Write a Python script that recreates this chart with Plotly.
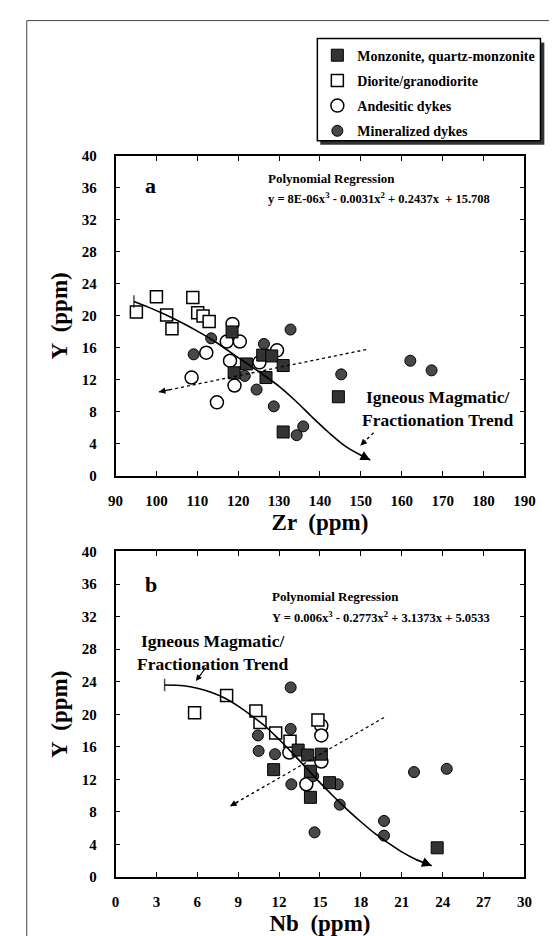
import plotly.graph_objects as go

# ---------------- Panel a : Zr vs Y ----------------
a_mon_zr = [118.5, 119.0, 122.0, 126.0, 128.2, 126.8, 131.0, 131.0, 144.5]
a_mon_y = [18.0, 12.9, 14.0, 15.1, 15.0, 12.3, 13.8, 5.5, 9.9]
a_dio_zr = [95.1, 100.0, 102.5, 103.8, 108.9, 110.1, 111.4, 112.9]
a_dio_y = [20.5, 22.4, 20.1, 18.4, 22.3, 20.4, 20.0, 19.3]
a_and_zr = [118.6, 117.2, 120.4, 112.2, 118.0, 108.6, 119.1, 114.8, 129.5, 125.2]
a_and_y = [19.0, 16.8, 16.8, 15.4, 14.4, 12.3, 11.3, 9.2, 15.7, 14.2]
a_min_zr = [113.4, 109.1, 126.3, 132.8, 121.6, 124.5, 128.7, 134.3, 135.9, 145.2, 162.1, 167.3]
a_min_y = [17.2, 15.2, 16.5, 18.3, 12.5, 10.8, 8.7, 5.1, 6.2, 12.7, 14.4, 13.2]

a_fit_zr = [94.5, 98, 102, 106, 110, 114, 118, 122, 126, 130, 134, 138, 142, 146, 150, 152.3]
a_fit_y = [21.8, 21.1, 20.2, 19.2, 18.1, 16.9, 15.5, 14.1, 12.7, 11.2, 9.4, 7.4, 5.5, 3.8, 2.6, 2.0]
a_trend_zr = [151.3, 100.6]
a_trend_y = [15.8, 10.5]
a_ptr_zr = [153.1, 149.9]
a_ptr_y = [5.4, 3.8]

# ---------------- Panel b : Nb vs Y ----------------
b_mon_nb = [11.6, 13.4, 14.1, 15.1, 14.3, 14.3, 15.7, 23.6]
b_mon_y = [13.2, 15.6, 15.0, 15.1, 13.0, 9.8, 11.6, 3.6]
b_dio_nb = [5.8, 8.15, 10.3, 10.6, 11.75, 12.8, 14.85]
b_dio_y = [20.2, 22.3, 20.4, 19.0, 17.7, 16.7, 19.3]
b_and_nb = [15.1, 15.1, 15.1, 12.75, 14.0]
b_and_y = [18.6, 17.4, 14.2, 15.3, 11.4]
b_min_nb = [12.85, 12.85, 10.45, 10.5, 11.7, 12.9, 14.6, 14.5, 16.3, 16.45, 19.7, 19.7, 21.9, 24.3]
b_min_y = [23.3, 18.2, 17.4, 15.5, 15.1, 11.4, 5.5, 12.4, 11.4, 8.9, 6.9, 5.1, 12.9, 13.3]

b_fit_nb = [3.6, 5, 6, 7, 8, 9, 10, 11, 12, 13, 14, 15, 16, 17, 18, 19, 20, 21, 22, 23.2]
b_fit_y = [23.6, 23.5, 23.2, 22.7, 22.0, 21.0, 19.8, 18.5, 16.9, 15.2, 13.4, 11.6, 9.9,
           8.3, 6.8, 5.4, 4.2, 3.1, 2.2, 1.4]
b_trend_nb = [19.7, 8.4]
b_trend_y = [19.6, 8.7]
b_ptr_nb = [6.7, 5.9]
b_ptr_y = [25.9, 24.1]

series_names = ["Monzonite, quartz-monzonite", "Diorite/granodiorite",
                "Andesitic dykes", "Mineralized dykes"]

FONT = "Liberation Serif, Times New Roman, serif"
FILL_SQ = "#333333"
FILL_CI = "#484848"

styles = {
    0: dict(symbol="square", size=12, color=FILL_SQ, line=dict(color="black", width=1)),
    1: dict(symbol="square", size=12, color="white", line=dict(color="black", width=1.5)),
    2: dict(symbol="circle", size=13, color="white", line=dict(color="black", width=1.5)),
    3: dict(symbol="circle", size=11, color=FILL_CI, line=dict(color="black", width=1)),
}

fig = go.Figure()

panels = [
    ("x", "y", [a_mon_zr, a_dio_zr, a_and_zr, a_min_zr], [a_mon_y, a_dio_y, a_and_y, a_min_y], True),
    ("x2", "y2", [b_mon_nb, b_dio_nb, b_and_nb, b_min_nb], [b_mon_y, b_dio_y, b_and_y, b_min_y], False),
]

draw_order = [2, 1, 3, 0]
for xa, ya, xs, ys, show in panels:
    for i in draw_order:
        fig.add_trace(go.Scatter(
            x=xs[i], y=ys[i], mode="markers", name=series_names[i],
            marker=styles[i], xaxis=xa, yaxis=ya, showlegend=show,
            legendgroup=series_names[i], legendrank=i + 1,
        ))

# fitted curves with start caps
for xa, ya, xs, ys in [("x", "y", a_fit_zr, a_fit_y), ("x2", "y2", b_fit_nb, b_fit_y)]:
    fig.add_trace(go.Scatter(x=xs, y=ys, mode="lines+markers", xaxis=xa, yaxis=ya,
                             line=dict(color="black", width=1.6, shape="spline"), showlegend=False,
                             marker=dict(symbol="line-ns-open", size=[9] + [0] * (len(xs) - 1),
                                         line=dict(color="black", width=1.5))))
# dotted trend lines
for xa, ya, xs, ys in [("x", "y", a_trend_zr, a_trend_y), ("x", "y", a_ptr_zr, a_ptr_y),
                       ("x2", "y2", b_trend_nb, b_trend_y)]:
    fig.add_trace(go.Scatter(x=xs, y=ys, mode="lines", xaxis=xa, yaxis=ya, showlegend=False,
                             line=dict(color="black", width=1.3, dash="dot")))

ann = []
def arrowhead(xref, yref, xs, ys, f, head=2, size=1.2):
    x0, y0 = xs[-2], ys[-2]
    x1, y1 = xs[-1], ys[-1]
    ann.append(dict(x=x1, y=y1, ax=x0 + (x1 - x0) * f, ay=y0 + (y1 - y0) * f,
                    xref=xref, yref=yref, axref=xref, ayref=yref, text="", showarrow=True,
                    arrowhead=head, arrowsize=size, arrowwidth=1.3, arrowcolor="black"))

arrowhead("x", "y", a_fit_zr, a_fit_y, 0.0, head=2, size=1.5)
arrowhead("x2", "y2", b_fit_nb, b_fit_y, 0.0, head=2, size=1.5)
arrowhead("x", "y", a_trend_zr, a_trend_y, 0.94, head=2, size=1.0)
arrowhead("x", "y", a_ptr_zr, a_ptr_y, 0.5, head=2, size=1.0)
arrowhead("x2", "y2", b_trend_nb, b_trend_y, 0.94, head=2, size=1.0)
ann.append(dict(x=b_ptr_nb[1], y=b_ptr_y[1], ax=b_ptr_nb[0], ay=b_ptr_y[0], xref="x2", yref="y2",
                axref="x2", ayref="y2", text="", showarrow=True, arrowhead=2, arrowsize=1.0,
                arrowwidth=1.2, arrowcolor="black"))

def txt(x, y, s, xref, yref, size, xanchor="left"):
    ann.append(dict(x=x, y=y, text=s, xref=xref, yref=yref, showarrow=False, xanchor=xanchor,
                    yanchor="middle", align="center",
                    font=dict(family=FONT, size=size, color="black", weight="bold")))

# panel a texts
txt(96.8, 36.3, "a", "x", "y", 22)
txt(126.8, 37.2, "Polynomial Regression", "x", "y", 13)
txt(126.8, 34.7, "y = 8E-06x<sup>3</sup> - 0.0031x<sup>2</sup> + 0.2437x  + 15.708", "x", "y", 12.5)
txt(168.8, 8.4, "Igneous Magmatic/<br>Fractionation Trend", "x", "y", 17.5, "center")
# panel b texts
txt(2.0, 35.9, "b", "x2", "y2", 22)
txt(11.3, 34.5, "Polynomial Regression", "x2", "y2", 13)
txt(11.3, 32.0, "Y = 0.006x<sup>3</sup> - 0.2773x<sup>2</sup> + 3.1373x + 5.0533", "x2", "y2", 12.5)
txt(7.1, 27.6, "Igneous Magmatic/<br>Fractionation Trend", "x2", "y2", 17.5, "center")

tickfont = dict(family=FONT, size=15, color="black", weight="bold")
titlefont = dict(family=FONT, size=23, color="black", weight="bold")
common = dict(showline=True, linecolor="black", linewidth=1.5, mirror="allticks", ticks="inside",
              ticklen=5, tickwidth=1.2, tickcolor="black", showgrid=False, zeroline=False,
              tickfont=tickfont)

W, H = 557, 936
def px(x):
    return x / W
def py(y):
    return 1 - y / H

fig.update_layout(
    width=W, height=H, margin=dict(l=0, r=0, t=0, b=0),
    paper_bgcolor="white", plot_bgcolor="white",
    xaxis=dict(domain=[0.185, 0.945], range=[90, 190], dtick=10, anchor="y",
               title=dict(text="Zr  (ppm)", font=titlefont, standoff=6), ticklabelstandoff=10, **common),
    yaxis=dict(domain=[0.500, 0.848], range=[0, 40], dtick=4, anchor="x",
               title=dict(text="Y  (ppm)", font=titlefont, standoff=8), ticklabelstandoff=14, **common),
    xaxis2=dict(domain=[0.185, 0.945], range=[0, 30], dtick=3, anchor="y2",
                title=dict(text="Nb  (ppm)", font=titlefont, standoff=6), ticklabelstandoff=10, **common),
    yaxis2=dict(domain=[0.064, 0.418], range=[0, 40], dtick=4, anchor="x2",
                title=dict(text="Y  (ppm)", font=titlefont, standoff=8), ticklabelstandoff=14, **common),
    legend=dict(x=px(312), y=py(24), xanchor="left", yanchor="top", bgcolor="rgba(0,0,0,0)",
                borderwidth=0, tracegroupgap=4,
                font=dict(family=FONT, size=14, color="black", weight="bold")),
    annotations=ann,
    shapes=[
        # legend frame with drop shadow
        dict(type="rect", xref="paper", yref="paper", x0=px(315), x1=px(547), y0=py(131), y1=py(27),
             fillcolor="#333333", line=dict(width=0), layer="below"),
        dict(type="rect", xref="paper", yref="paper", x0=px(312), x1=px(543), y0=py(127), y1=py(23),
             fillcolor="white", line=dict(color="black", width=1.5), layer="below"),
        # scan frame lines
        dict(type="line", xref="paper", yref="paper", x0=0.02, x1=0.02, y0=0, y1=0.995,
             line=dict(color="#444444", width=1)),
        dict(type="line", xref="paper", yref="paper", x0=0.02, x1=1, y0=0.995, y1=0.995,
             line=dict(color="#444444", width=1)),
    ],
)

fig.write_html("out.html")
